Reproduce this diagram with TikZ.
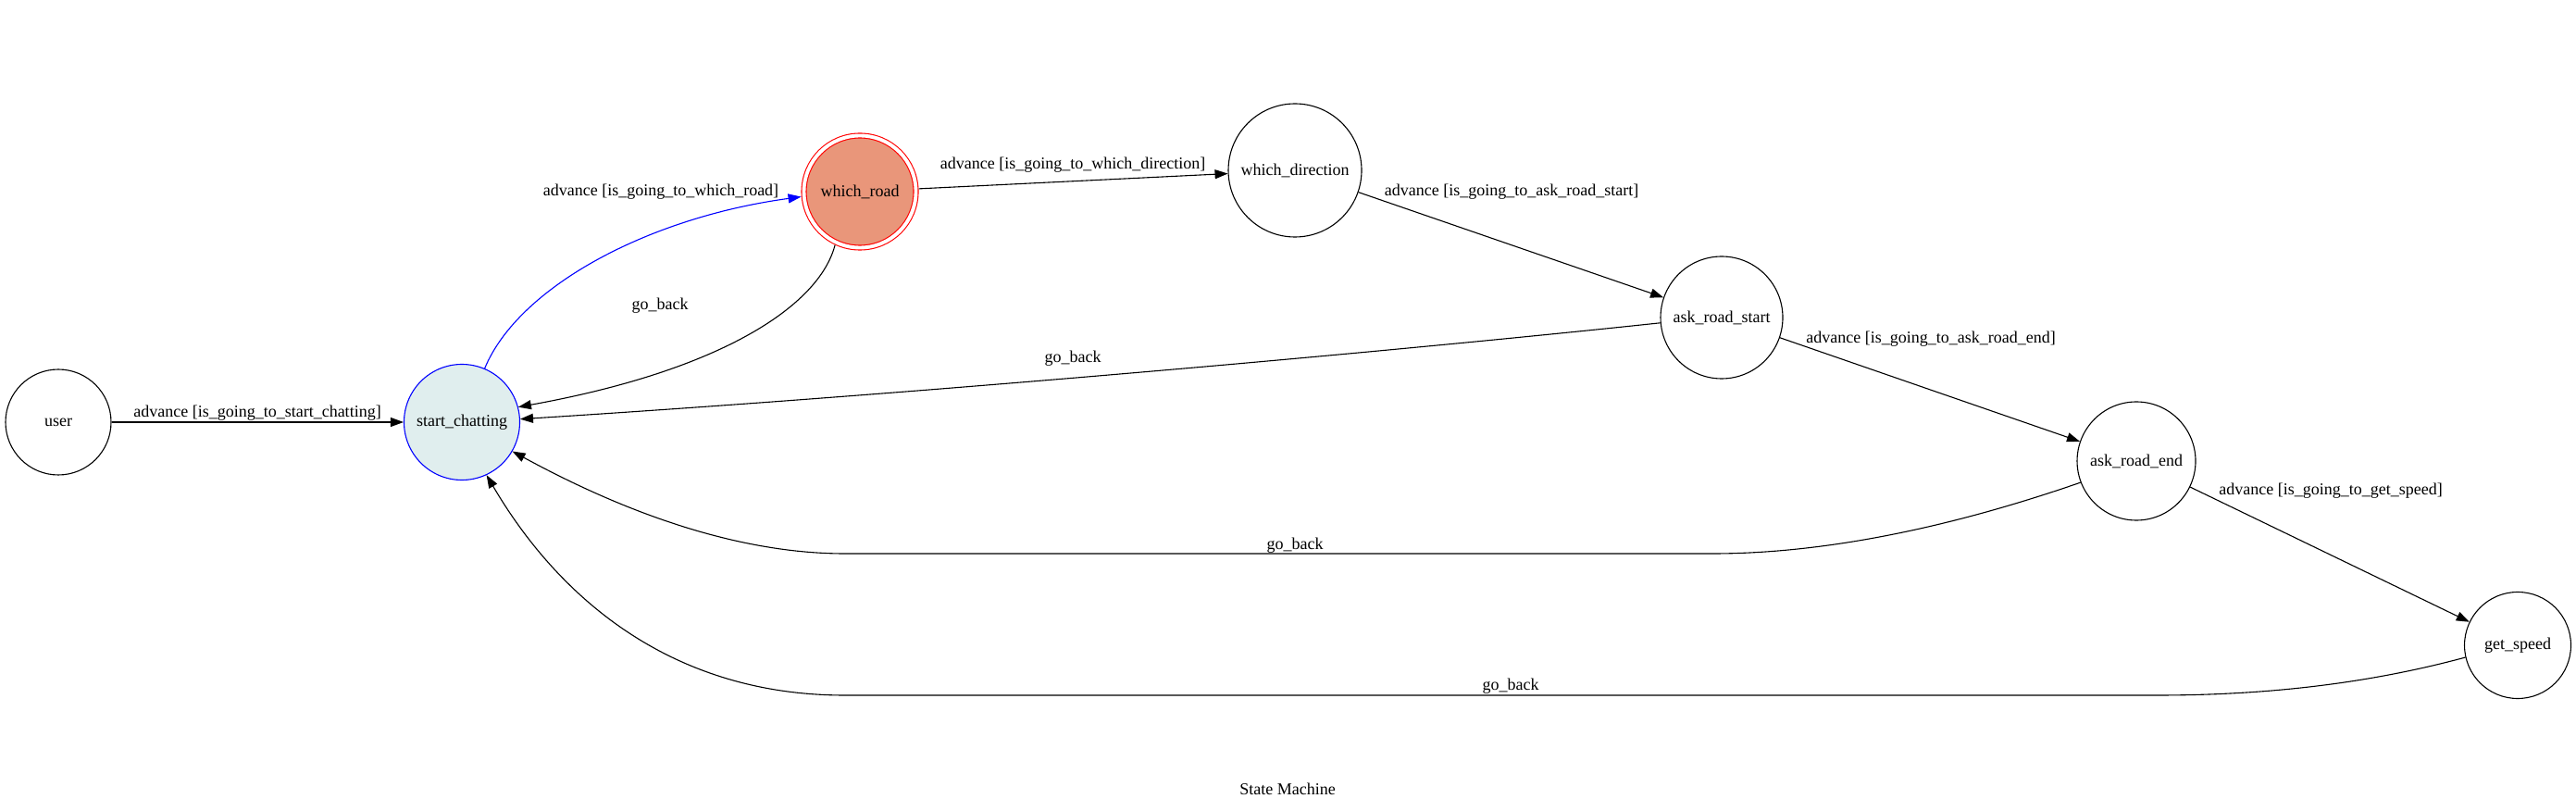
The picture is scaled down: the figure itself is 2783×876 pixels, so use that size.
\documentclass[tikz,border=0pt]{standalone}
\usepackage{fontspec}
\setmainfont{Liberation Serif}
\usetikzlibrary{arrows.meta, positioning}
\definecolor{chatfill}{HTML}{E0EEEE}
\definecolor{roadfill}{HTML}{E9967A}

\begin{document}
\begin{tikzpicture}[x=0.5pt, y=-0.5pt, line width=0.55pt,
            >={Triangle[length=7pt, width=5pt]},
            state/.style={circle, draw, inner sep=0pt, font=\fontsize{9}{11}\selectfont},
            lbl/.style={anchor=base, inner sep=0pt, font=\fontsize{9}{11}\selectfont}
        ]
        \useasboundingbox (0,0) rectangle (2783,876);
        % states
        \node[state, minimum size=57pt] (user) at (63,456) {user};
        \node[state, minimum size=62.5pt, draw=blue, fill=chatfill] (chat) at (499,456) {start\_chatting};
        \node[state, minimum size=60.5pt, draw=red, double=white, double distance=1.95pt,
              fill=roadfill, outer sep=1.6pt] (road) at (929,207) {which\_road};
        \node[state, minimum size=72pt] (dir) at (1399,184) {which\_direction};
        \node[state, minimum size=66pt] (rstart) at (1860,343) {ask\_road\_start};
        \node[state, minimum size=64pt] (rend) at (2308,498) {ask\_road\_end};
        \node[state, minimum size=57.5pt] (speed) at (2720,697) {get\_speed};

        % transitions
        \draw[->] (user) -- (chat);
        \draw[->, blue] (chat.67) .. controls (560,310) and (700,235) .. (road.185);
        \draw[->] (road.245) .. controls (885,330) and (780,400) .. (chat.15);
        \draw[->] (road) -- (dir);
        \draw[->] (dir) -- (rstart);
        \draw[->] (rstart.185) .. controls (1500,380) and (1000,425) .. (chat.3);
        \draw[->] (rstart) -- (rend);
        \draw[->] (rend.201) .. controls (2150,555) and (2000,598) .. (1850,598) -- (913,598)
            .. controls (780,598) and (650,540) .. (chat.-30);
        \draw[->] (rend) -- (speed);
        \draw[->] (speed.193) .. controls (2560,738) and (2450,751) .. (2330,751) -- (913,751)
            .. controls (720,751) and (600,640) .. (chat.-65);

        % labels
        \node[lbl] (l1) at (278,451) {advance [is\_going\_to\_start\_chatting]};
        \node[lbl] (l2) at (714,212) {advance [is\_going\_to\_which\_road]};
        \node[lbl] (l3) at (713,335) {go\_back};
        \node[lbl] (l4) at (1159,183) {advance [is\_going\_to\_which\_direction]};
        \node[lbl] (l5) at (1633,212) {advance [is\_going\_to\_ask\_road\_start]};
        \node[lbl] (l6) at (1159,392) {go\_back};
        \node[lbl] (l7) at (2086,371) {advance [is\_going\_to\_ask\_road\_end]};
        \node[lbl] (l8) at (1399,593) {go\_back};
        \node[lbl] (l9) at (2518,535) {advance [is\_going\_to\_get\_speed]};
        \node[lbl] (l10) at (1632,745) {go\_back};
        \node[lbl] (title) at (1391,858) {State Machine};
    \end{tikzpicture}
\end{document}
